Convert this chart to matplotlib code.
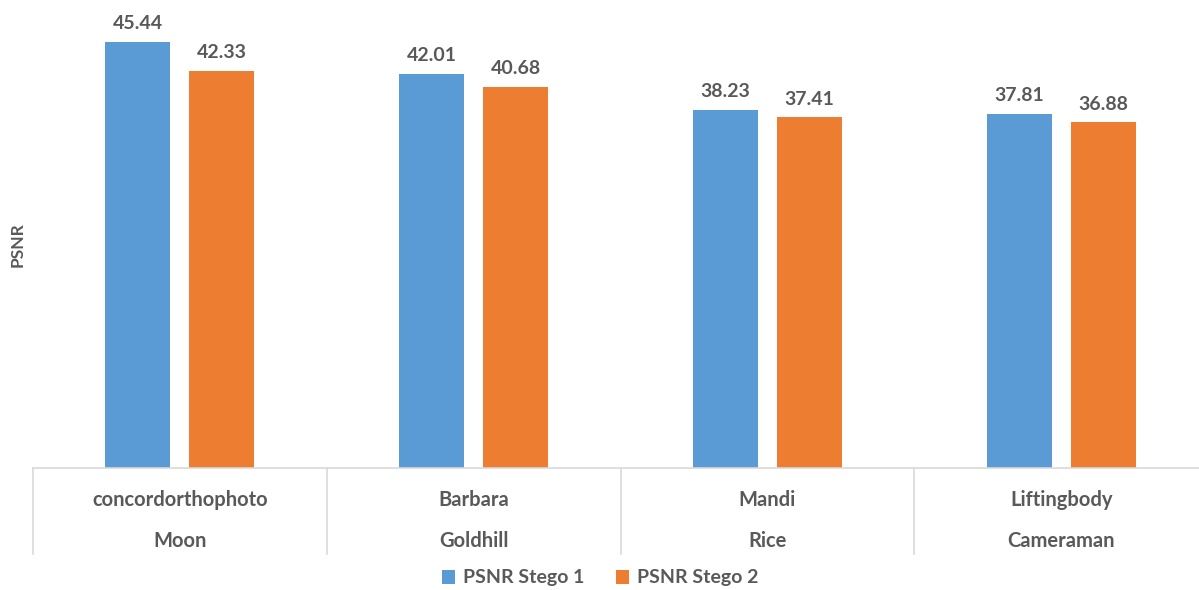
import numpy as np
import matplotlib.pyplot as plt
from matplotlib.transforms import blended_transform_factory

# PSNR of the two stego methods for each cover image pair
top_names = ["concordorthophoto", "Barbara", "Mandi", "Liftingbody"]
bottom_names = ["Moon", "Goldhill", "Rice", "Cameraman"]
stego1 = [45.44, 42.01, 38.23, 37.81]
stego2 = [42.33, 40.68, 37.41, 36.88]

plt.rcParams['font.family'] = ['Lato', 'DejaVu Sans']
txt = '#595959'
line_col = '#D9D9D9'

fig = plt.figure(figsize=(11.99, 5.90), dpi=100)
ax = fig.add_axes([33 / 1199, 122 / 590, 1175 / 1199, 450 / 590])

x = np.arange(len(top_names))
w = 0.222
off = 0.143
b1 = ax.bar(x - off, stego1, w, color='#5B9BD5', label='PSNR Stego 1')
b2 = ax.bar(x + off, stego2, w, color='#ED7D31', label='PSNR Stego 2')

for bars in (b1, b2):
    ax.bar_label(bars, labels=[f"{v:.2f}" for v in bars.datavalues],
                 padding=7, fontsize=14, fontweight='bold', color=txt)

ax.set_xlim(-0.5, len(top_names) - 0.5)
ax.set_ylim(0, 48)
ax.set_yticks([])
ax.set_xticks([])
for s in ['top', 'right', 'left']:
    ax.spines[s].set_visible(False)
ax.spines['bottom'].set_color(line_col)
ax.spines['bottom'].set_linewidth(1.2)

# two-level category axis: separators and stacked labels
trans = blended_transform_factory(ax.transData, ax.transAxes)
for xs in np.arange(len(top_names) + 1) - 0.5:
    ax.plot([xs, xs], [0, -86 / 450], transform=trans, color=line_col,
            lw=1.2, clip_on=False)
for i in range(len(top_names)):
    ax.text(x[i], -32 / 450, top_names[i], transform=trans, ha='center',
            va='center', fontsize=14.5, fontweight='bold', color=txt)
    ax.text(x[i], -73 / 450, bottom_names[i], transform=trans, ha='center',
            va='center', fontsize=14.5, fontweight='bold', color=txt)

fig.text(18 / 1199, 1 - 245 / 590, 'PSNR', rotation=90, ha='center',
         va='center', fontsize=12.5, fontweight='bold', color=txt)

fig.legend(handles=[b1, b2], loc='center', bbox_to_anchor=(600 / 1199, 12 / 590),
           ncol=2, frameon=False, handlelength=0.7,
           handleheight=0.7, handletextpad=0.4, columnspacing=1.6,
           prop={'weight': 'bold', 'size': 14}, labelcolor=txt)

fig.savefig('out.png', dpi=100)
